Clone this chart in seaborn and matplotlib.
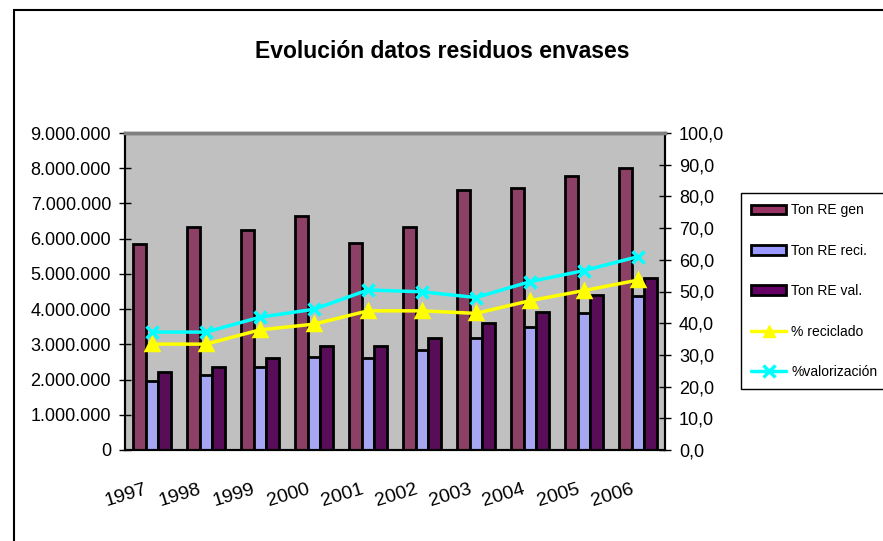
import matplotlib
matplotlib.use("Agg")
import matplotlib.pyplot as plt
import matplotlib.transforms as mtransforms
from matplotlib.font_manager import fontManager
from matplotlib.patches import Rectangle, Patch
from matplotlib.lines import Line2D
from matplotlib.ticker import FuncFormatter, MultipleLocator, FixedLocator
import numpy as np
import pandas as pd
import seaborn as sns

years = ["1997", "1998", "1999", "2000", "2001", "2002", "2003", "2004", "2005", "2006"]
ton_gen = [5840000, 6340000, 6250000, 6630000, 5870000, 6340000, 7390000, 7430000, 7780000, 8000000]
ton_reci = [1970000, 2130000, 2370000, 2650000, 2600000, 2840000, 3170000, 3500000, 3900000, 4360000]
ton_val = [2220000, 2370000, 2600000, 2950000, 2950000, 3170000, 3600000, 3920000, 4400000, 4870000]
pct_reciclado = [33.4, 33.4, 37.9, 39.7, 43.9, 43.9, 43.1, 47.1, 50.3, 53.6]
pct_valorizacion = [37.2, 37.2, 41.9, 44.4, 50.5, 49.9, 48.1, 53.1, 56.6, 61.0]

bar_names = ["Ton RE gen", "Ton RE reci.", "Ton RE val."]
bar_colors = ["#993366", "#9999FF", "#660066"]
line_names = ["% reciclado", "%valorización"]
line_colors = ["#FFFF00", "#00FFFF"]

names = [f.name for f in fontManager.ttflist]
fam = "Liberation Sans Narrow" if "Liberation Sans Narrow" in names else "Liberation Sans"
sns.set_style("white")
plt.rcParams["font.family"] = [fam, "DejaVu Sans"]
plt.rcParams["text.color"] = "black"
plt.rcParams["xtick.color"] = "black"
plt.rcParams["ytick.color"] = "black"

bars = pd.DataFrame({
    "year": years * 3,
    "serie": [bar_names[0]] * 10 + [bar_names[1]] * 10 + [bar_names[2]] * 10,
    "ton": ton_gen + ton_reci + ton_val,
})
lines = pd.DataFrame({
    "year": years * 2,
    "serie": [line_names[0]] * 10 + [line_names[1]] * 10,
    "pct": pct_reciclado + pct_valorizacion,
})

fig = plt.figure(figsize=(8.83, 5.41), dpi=100)
ax = fig.add_axes([125 / 883, 91 / 541, 540 / 883, 317 / 541])
ax.set_facecolor("#C0C0C0")

sns.barplot(data=bars, x="year", y="ton", hue="serie", palette=bar_colors,
            width=0.69, gap=0, edgecolor="black", linewidth=2, ax=ax, legend=False)

ax2 = ax.twinx()
sns.pointplot(data=lines, x="year", y="pct", hue="serie", palette=line_colors,
              markers=["^", "x"], markersize=8, linewidth=2.5, ax=ax2, legend=False)
for ln in ax2.lines:
    ln.set_markeredgewidth(2.5)

ax.set_xlim(-0.5, 9.5)
ax.set_ylim(0, 9000000)
ax2.set_ylim(0, 100)
ax.yaxis.set_major_locator(MultipleLocator(1000000))
ax2.yaxis.set_major_locator(MultipleLocator(10))
ax.yaxis.set_major_formatter(FuncFormatter(lambda v, p: f"{int(v):,}".replace(",", ".")))
ax2.yaxis.set_major_formatter(FuncFormatter(lambda v, p: f"{v:.1f}".replace(".", ",")))

ax.set_xlabel("")
ax.set_ylabel("")
ax2.set_xlabel("")
ax2.set_ylabel("")
ax.grid(False)
ax2.grid(False)

ax.set_xticks(range(len(years)))
ax.set_xticklabels(years, rotation=17, fontsize=14)
ax.xaxis.set_minor_locator(FixedLocator(np.arange(-0.5, 10, 1)))
ax.tick_params(axis="x", which="major", length=0, pad=22)
ax.tick_params(axis="x", which="minor", length=8, width=1, direction="inout", color="black")
offset = mtransforms.ScaledTranslation(-0.26, 0, fig.dpi_scale_trans)
for lab in ax.get_xticklabels():
    lab.set_transform(lab.get_transform() + offset)

ax.tick_params(axis="y", labelsize=13, length=8, width=1, direction="inout", color="black", pad=6, left=True)
ax2.tick_params(axis="y", labelsize=13, length=8, width=1, direction="inout", color="black", pad=6, right=True)

for a in (ax, ax2):
    for s in ("left", "bottom", "right"):
        a.spines[s].set_color("black")
        a.spines[s].set_linewidth(1.5)
    a.spines["top"].set_color("#808080")
    a.spines["top"].set_linewidth(2.5)

fig.text(442 / 883, 1 - 52 / 541, "Evolución datos residuos envases",
         ha="center", va="center", fontsize=16.5, fontweight="bold")

handles = [Patch(facecolor=c, edgecolor="black", linewidth=2) for c in bar_colors]
handles += [Line2D([], [], color=line_colors[0], marker="^", markersize=9, lw=2.5),
            Line2D([], [], color=line_colors[1], marker="x", markersize=9, mew=2.5, lw=2.5)]
leg = fig.legend(handles, bar_names + line_names, loc="upper left",
                 bbox_to_anchor=(741 / 883, 1 - 193 / 541), fontsize=10,
                 frameon=True, fancybox=False, framealpha=1, edgecolor="black",
                 labelspacing=1.9, handlelength=2.5, handletextpad=0.35,
                 borderpad=0.75, borderaxespad=0)
leg.get_frame().set_linewidth(1)

fig.patches.append(Rectangle((14 / 883, -0.1), 1.2, 1.1 - 10 / 541, transform=fig.transFigure,
                             fill=False, edgecolor="black", linewidth=1.5))

fig.savefig("out.png", dpi=100)
